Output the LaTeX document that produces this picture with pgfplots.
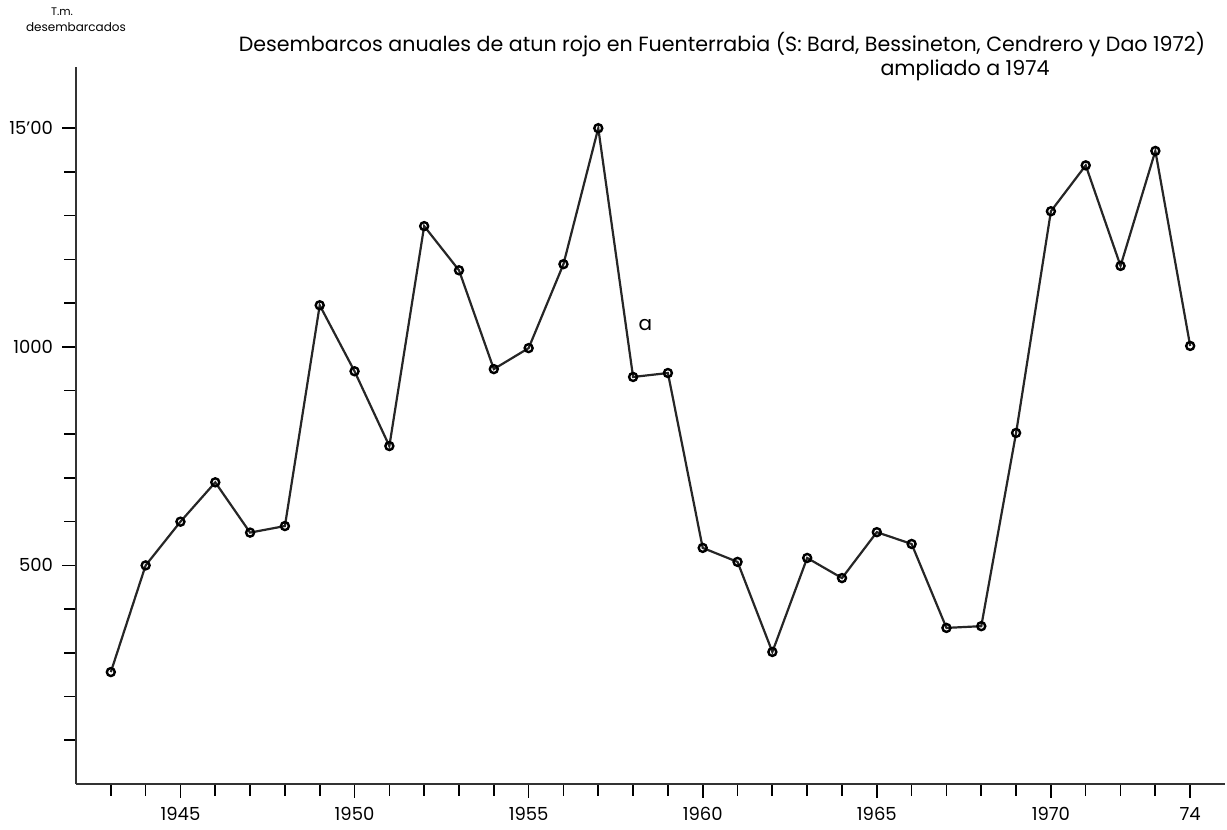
\documentclass[border=0pt]{standalone}
\usepackage{fontspec}
\setmainfont{Poppins}
\usepackage{pgfplots}
\pgfplotsset{compat=1.18}
\begin{document}
\begin{tikzpicture}[x=1pt,y=1pt]
\useasboundingbox (0,0) rectangle (613.5,415);
\begin{axis}[
  at={(38pt,23pt)}, anchor=south west,
  scale only axis, width=574.5pt, height=358.5pt,
  xmin=1942, xmax=1975, ymin=0, ymax=1640,
  axis lines*=left,
  axis line style={line width=0.9pt, black!80},
  xtick={1945,1950,1955,1960,1965,1970,1974},
  xticklabels={1945,1950,1955,1960,1965,1970,74},
  minor xtick={1943,...,1974},
  ytick={500,1000,1500},
  yticklabels={500,1000,15'00},
  minor ytick={100,200,...,1500},
  tick align=outside,
  major tick length=7pt, minor tick length=6pt,
  every tick/.style={black, line width=0.8pt},
  minor tick style={black, line width=0.8pt},
  tick label style={font=\fontsize{9}{10}\selectfont, black},
  xticklabel style={yshift=-1pt},
  yticklabel style={xshift=-1pt},
  clip=false,
]
\addplot[black!85, line width=1.1pt, mark=o, mark size=2pt,
  mark options={line width=1.2pt, black}] coordinates {
(1943,256) (1944,500) (1945,600) (1946,690) (1947,575) (1948,590)
(1949,1095) (1950,944) (1951,773) (1952,1276) (1953,1175) (1954,949)
(1955,997) (1956,1189) (1957,1500) (1958,931) (1959,940) (1960,540)
(1961,508) (1962,302) (1963,517) (1964,471) (1965,576) (1966,549)
(1967,357) (1968,361) (1969,803) (1970,1310) (1971,1415) (1972,1185)
(1973,1448) (1974,1002)
};
\node[font=\fontsize{10}{12}\selectfont] at (axis cs:1958.35,1050) {a};
\end{axis}
\node[font=\fontsize{10.3}{12}\selectfont, inner sep=0pt] at (361,392.5) {Desembarcos anuales de atun rojo en Fuenterrabia (S: Bard, Bessineton, Cendrero y Dao 1972)};
\node[font=\fontsize{10.3}{12}\selectfont, inner sep=0pt] at (482.5,380) {ampliado a 1974};
\node[font=\fontsize{5.5}{6}\selectfont, inner sep=0pt] at (31,409) {T.m.};
\node[font=\fontsize{6}{7}\selectfont, inner sep=0pt] at (38,401.5) {desembarcados};
\end{tikzpicture}
\end{document}
